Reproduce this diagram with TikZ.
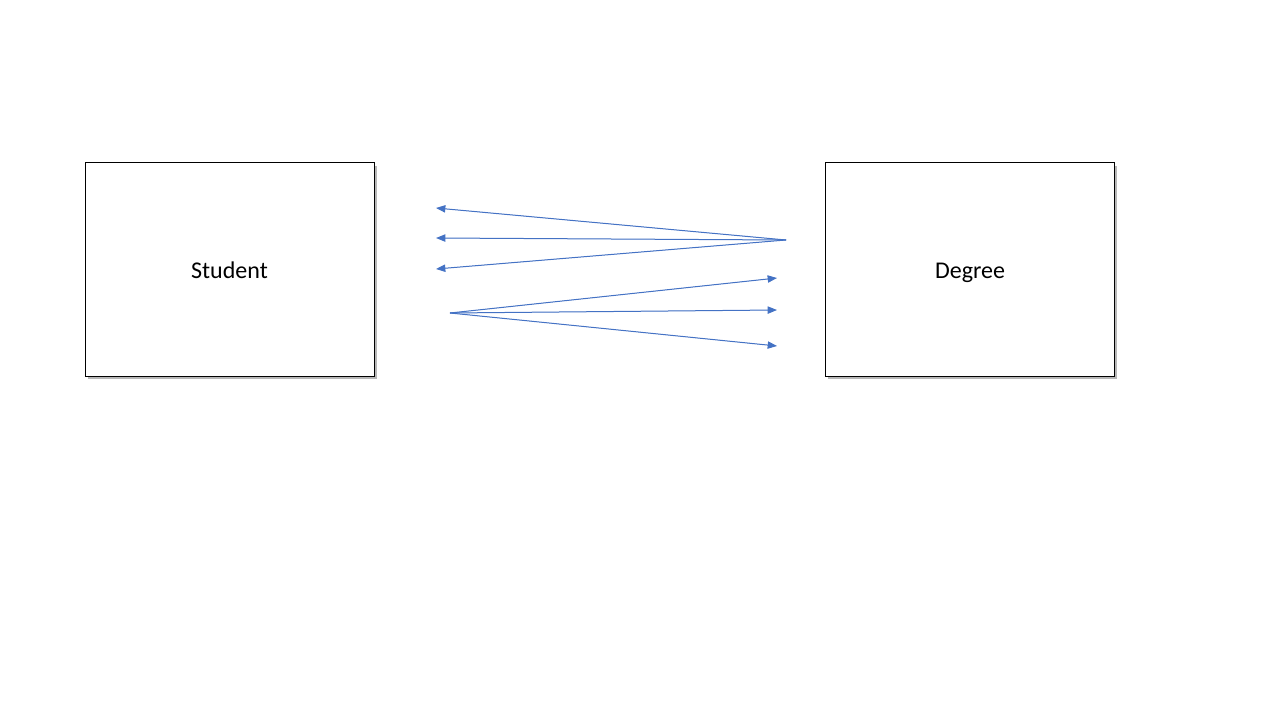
\documentclass[tikz,border=0pt]{standalone}
\usepackage{fontspec}
\setmainfont{Carlito}
\usetikzlibrary{arrows.meta,shadows}
\definecolor{linkblue}{HTML}{4472C4}
\tikzset{
  >={Triangle[length=7pt,width=5.5pt]},
  font=\fontsize{18}{22}\selectfont,
  entity/.style={draw=black,line width=0.75pt,fill=white,minimum width=216.75pt,
                 minimum height=159.75pt,inner sep=0pt,text height=14pt,text depth=0pt,
                 drop shadow={shadow xshift=2.2pt,shadow yshift=-2.2pt,fill=black!40,opacity=0.7}},
  link/.style={->,line width=0.75pt,draw=linkblue,fill=linkblue},
}
\begin{document}
\begin{tikzpicture}[x=0.75pt,y=-0.75pt]
  \useasboundingbox (0,0) rectangle (1280,720);

  \node[entity] (student) at (229.5,269.5) {Student};
  \node[entity] (degree) at (970,269.5) {Degree};

  % fan from degree to student
  \coordinate (dsrc) at (786,240);
  \coordinate (stop) at (436,208);
  \coordinate (smid) at (436,238);
  \coordinate (sbot) at (436,269);
  % fan from student to degree
  \coordinate (ssrc) at (450,313);
  \coordinate (dtop) at (777,278);
  \coordinate (dmid) at (777,310);
  \coordinate (dbot) at (777,346);

  \foreach \tip in {stop,smid,sbot}
    \draw[link] (dsrc) -- (\tip);
  \foreach \tip in {dtop,dmid,dbot}
    \draw[link] (ssrc) -- (\tip);
\end{tikzpicture}
\end{document}
